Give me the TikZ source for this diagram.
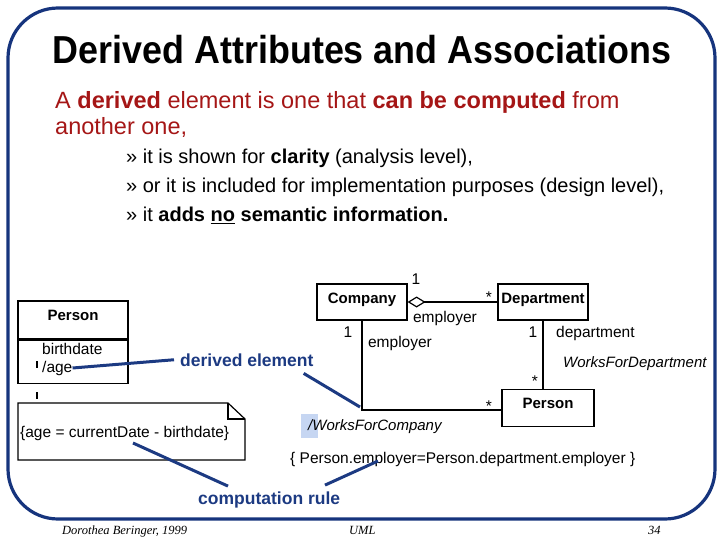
\documentclass[tikz,border=0pt]{standalone}
\usepackage{fontspec}
\setmainfont{Liberation Sans}
\newfontfamily\footfont{Liberation Serif}
\newfontfamily\titlefont[FakeStretch=0.92]{Liberation Sans}
\usetikzlibrary{arrows.meta,positioning}

\definecolor{slideframe}{RGB}{22,52,125}
\definecolor{calloutblue}{RGB}{28,58,130}
\definecolor{leadred}{RGB}{165,22,22}
\definecolor{markblue}{RGB}{198,214,242}

\tikzset{
  heading/.style={anchor=base, inner sep=0pt, font=\titlefont\fontsize{39}{44}\selectfont\bfseries},
  leadtext/.style={anchor=base west, inner sep=0pt, text=leadred, font=\fontsize{23.5}{26}\selectfont},
  bulletline/.style={anchor=base west, inner sep=0pt, font=\fontsize{20}{24}\selectfont},
  umlline/.style={line width=1.2pt},
  umlbox/.style={draw, umlline, inner sep=0pt, minimum width=90pt, text height=19pt, text depth=17pt, font=\fontsize{15}{18}\selectfont\bfseries},
  umltext/.style={anchor=base west, inner sep=0pt, font=\fontsize{15.5}{18}\selectfont},
  umlmult/.style={anchor=base, inner sep=0pt, font=\fontsize{15.5}{18}\selectfont},
  callout/.style={line width=3pt, calloutblue},
  calloutlabel/.style={anchor=base west, inner sep=0pt, text=calloutblue, font=\fontsize{17.5}{20}\selectfont\bfseries},
  footer/.style={anchor=base west, inner sep=0pt, font=\footfont\fontsize{12.5}{14}\selectfont\itshape}
}

\begin{document}
\begin{tikzpicture}[x=1pt, y=-1pt]
  \useasboundingbox (0,0) rectangle (720,540);

  % 1. slide frame and text
  \draw[slideframe, line width=3.2pt, rounded corners=50pt] (8,8) rectangle (715,519);
  \node[heading] (title) at (362,64) {Derived Attributes and Associations};
  \node[leadtext] (lead1) at (55,109) {A \textbf{derived} element is one that \textbf{can be computed} from};
  \node[leadtext] (lead2) at (55,135) {another one,};
  \node[bulletline] (b1) at (126,164) {» it is shown for \textbf{clarity} (analysis level),};
  \node[bulletline] (b2) at (126,193) {» or it is included for implementation purposes (design level),};
  \node[bulletline] (b3) at (126,222) {» it \textbf{adds \underline{no} semantic information.}};

  % 2. class Person with derived attribute, and its note
  \node[umlbox, minimum width=110pt, text depth=19pt] (personL) at (73,320) {Person};
  \node[draw, umlline, minimum width=110pt, minimum height=43pt, anchor=north] (personAttr) at (personL.south) {};
  \node[umltext] (bdate) at (42,354.5) {birthdate};
  \node[umltext] (age) at (42,372) {/age};
  \draw[umlline, dash pattern=on 7pt off 24pt] (37,361) -- (37,403);

  \draw[umlline, fill=white] (18,403) -- (228,403) -- (245,419) -- (245,460) -- (18,460) -- cycle;
  \draw[umlline] (228,403) -- (228,419) -- (245,419);
  \node[umltext] (ageRule) at (20,437.5) {\{age = currentDate - birthdate\}};

  % 3. Company / Department / Person
  \node[umlbox] (company) at (362,302) {Company};
  \node[umlbox] (dept) at (543,302) {Department};
  \node[umlbox, minimum width=92pt, text depth=18pt] (person) at (548,408) {Person};

  \draw[umlline, -{Diamond[open, length=18pt, width=11pt]}] (dept.west) -- (company.east);
  \draw[umlline] (company.south) |- ([yshift=-2pt]person.west);
  \draw[umlline] (dept.south) -- (dept.south |- person.north);

  \node[umlmult] (m1) at (416,284.5) {1};
  \node[umlmult] (m2) at (489,302) {*};
  \node[umlmult] (r1) at (445,322) {employer};
  \node[umlmult] (m3) at (348,337.5) {1};
  \node[umlmult] (r2) at (400,347) {employer};
  \node[umlmult] (m4) at (489,411) {*};
  \node[umlmult] (m5) at (533,337.5) {1};
  \node[umltext] (r3) at (556,337) {department};
  \node[umltext, font=\fontsize{15}{18}\selectfont\itshape] (wfd) at (563,367.5) {WorksForDepartment};
  \node[umlmult] (m6) at (535,386) {*};

  \fill[markblue] (301,414) rectangle (318,438);
  \node[umltext, font=\fontsize{15}{18}\selectfont\itshape] (wfc) at (308,430.5) {/WorksForCompany};
  \node[umltext] (ocl) at (290,463.5) {\{ Person.employer=Person.department.employer \}};

  % 4. callouts
  \node[calloutlabel] (derived) at (180,366) {derived element};
  \node[calloutlabel] (computed) at (198,504) {computation rule};
  \coordinate (assocCorner) at (360,407);
  \coordinate (noteRule) at (133,443);
  \coordinate (oclRule) at (378,461);
  \draw[callout] (age.east) -- ([xshift=-6pt]derived.west);
  \draw[callout] ([xshift=-10pt,yshift=-7pt]derived.south east) -- (assocCorner);
  \draw[callout] (noteRule) -- ([xshift=30pt,yshift=5pt]computed.north west);
  \draw[callout] ([xshift=127pt,yshift=6pt]computed.north west) -- (oclRule);

  % 5. footer
  \node[footer] (author) at (62,534) {Dorothea Beringer, 1999};
  \node[footer] (topic) at (349,534) {UML};
  \node[footer] (page) at (648,534) {34};
\end{tikzpicture}
\end{document}
